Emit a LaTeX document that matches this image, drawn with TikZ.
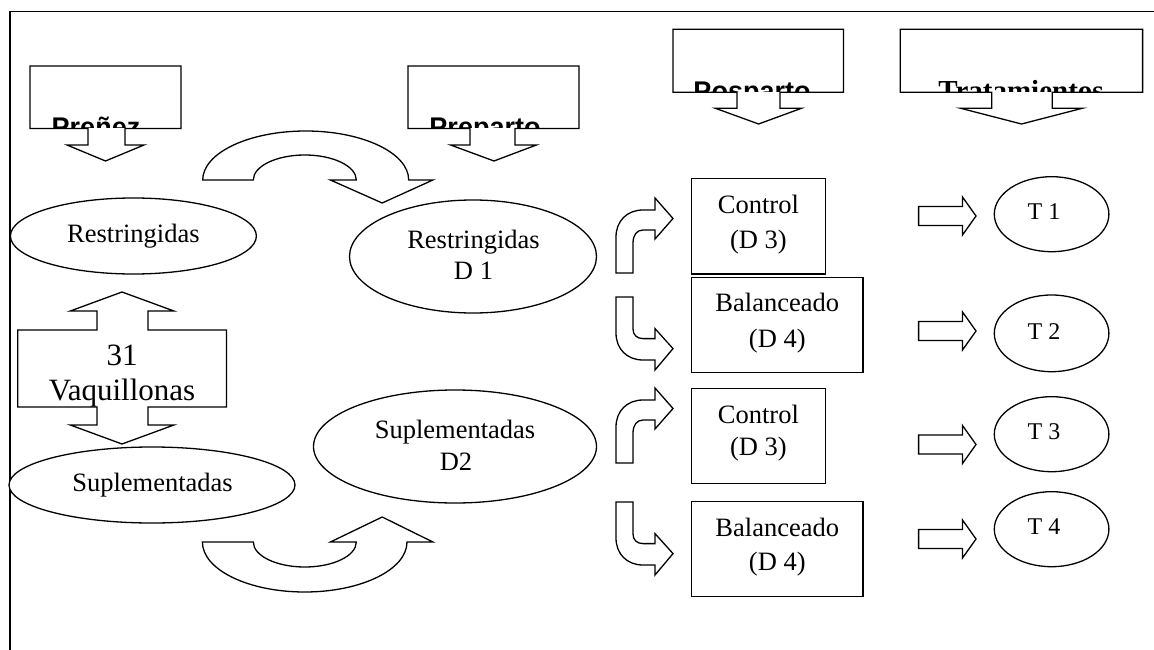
\documentclass[tikz,border=0pt]{standalone}
\usepackage{fontspec}
\setmainfont{Liberation Serif}
\newfontfamily\arialfont{Liberation Sans}
\usetikzlibrary{shapes.geometric}
\tikzset{
  ln/.style={line width=1.3pt, line join=miter},
  blk/.style={ln, draw=black, fill=white},
  ell/.style={ellipse, draw, ln, inner sep=0pt, fill=white},
  bx/.style={rectangle, draw, ln, inner sep=0pt, fill=white},
  lbl/.style={anchor=base, inner sep=0pt, font=\fontsize{26.5}{31}\selectfont},
  tlbl/.style={anchor=base, inner sep=0pt, font=\fontsize{24}{28}\selectfont},
  biglbl/.style={anchor=base, inner sep=0pt, font=\fontsize{31}{35}\selectfont},
  hdsans/.style={anchor=base, inner sep=0pt, font=\arialfont\bfseries\fontsize{27}{30}\selectfont},
  hdserif/.style={anchor=base, inner sep=0pt, font=\bfseries\fontsize{29}{33}\selectfont},
  rblock/.pic={\path[blk] (0,-9.5) -- (43.9,-9.5) -- (43.9,-19) -- (57.4,0) -- (43.9,19) -- (43.9,9.5) -- (0,9.5) -- cycle;},
  urbent/.pic={\path[blk] (0,0) -- (0,-36) .. controls (0,-52) and (11,-63) .. (27,-63) -- (39,-63) -- (39,-75) -- (57,-54.5) -- (39,-34) -- (39,-43) -- (27,-43) .. controls (21,-43) and (17,-38) .. (17,-30) -- (17,0) -- cycle;},
  drbent/.pic={\path[blk] (0,0) -- (0,36) .. controls (0,52) and (11,63) .. (27,63) -- (39,63) -- (39,73) -- (57,51.6) -- (39,31.6) -- (39,41.6) -- (27,41.6) .. controls (21,41.6) and (17,38) .. (17,32) -- (17,0) -- cycle;}
}
\begin{document}
\begin{tikzpicture}[x=1pt, y=-1pt]
\useasboundingbox (0,0) rectangle (1154,650);
% frame
\draw[ln] (1154,11.7) -- (10,11.7) -- (10,650);

% header callouts
\path[blk] (30,66) -- (181,66) -- (181,128.5) -- (125,128.5) -- (125,145) -- (144,145) -- (105.5,161) -- (67,145) -- (88,145) -- (88,128.5) -- (30,128.5) -- cycle;
\begin{scope}\clip (31,67) rectangle (180,127.8);
\node[hdsans] (prenez) at (96,137) {Preñez};
\end{scope}

\path[blk] (408,66) -- (579,66) -- (579,128.5) -- (515,128.5) -- (515,145) -- (536.4,145) -- (494,161) -- (450.6,145) -- (470,145) -- (470,128.5) -- (408,128.5) -- cycle;
\begin{scope}\clip (409,67) rectangle (578,127.8);
\node[hdsans] (preparto) at (485,137) {Preparto};
\end{scope}

\path[blk] (673,29.3) -- (843.5,29.3) -- (843.5,92.3) -- (780,92.3) -- (780,108.3) -- (801.4,108.3) -- (758.6,124) -- (715.4,108.3) -- (737,108.3) -- (737,92.3) -- (673,92.3) -- cycle;
\begin{scope}\clip (674,30) rectangle (842.5,91.6);
\node[hdsans] (posparto) at (752,100.5) {Posparto};
\end{scope}

\path[blk] (900.3,29.3) -- (1142.6,29.3) -- (1142.6,92.3) -- (1052.2,92.3) -- (1052.2,108.3) -- (1082.2,108.3) -- (1021.5,124) -- (960.7,108.3) -- (991.8,108.3) -- (991.8,92.3) -- (900.3,92.3) -- cycle;
\begin{scope}\clip (901,30) rectangle (1141.6,91.6);
\node[hdserif] (tratam) at (1021,101) {Tratamientos};
\end{scope}

% ellipses
\node[ell, minimum width=246pt, minimum height=76pt] (restr) at (133.4,236) {};
\node[lbl] (restrT) at (133.4,242.3) {Restringidas};
\node[ell, minimum width=286pt, minimum height=76pt] (supl) at (152,485) {};
\node[lbl] (suplT) at (152.5,491.7) {Suplementadas};
\node[ell, minimum width=247pt, minimum height=113pt] (restrD) at (473,256.5) {};
\node[lbl] (restrDa) at (473.5,248.3) {Restringidas};
\node[lbl] (restrDb) at (473.5,279.3) {D 1};
\node[ell, minimum width=283pt, minimum height=113pt] (suplD) at (455,446.5) {};
\node[lbl] (suplDa) at (455,438.3) {Suplementadas};
\node[lbl] (suplDb) at (456,470) {D2};

% 31 Vaquillonas up-down arrow callout
\path[blk] (17.8,330) -- (97,330) -- (97,311) -- (70.3,311) -- (122,292) -- (173.9,311) -- (148,311) -- (148,330) -- (226.4,330) -- (226.4,407) -- (148,407) -- (148,425) -- (173.9,425) -- (122,444) -- (70.3,425) -- (97,425) -- (97,407) -- (17.8,407) -- cycle;
\node[biglbl] (n31) at (122,365) {31};
\node[biglbl] (vaq) at (122,400) {Vaquillonas};

% U-turn arrows
\path[blk] (202.7,180) arc[start angle=180, end angle=0, x radius=103pt, y radius=49pt] -- (432.9,180) -- (382.2,203) -- (330.4,180) -- (356.3,180) arc[start angle=0, end angle=180, x radius=51.5pt, y radius=25pt] -- cycle;
\path[blk] (202.4,542) arc[start angle=180, end angle=360, x radius=102.3pt, y radius=50pt] -- (432.9,542) -- (382.2,517) -- (330.4,542) -- (356.3,542) arc[start angle=0, end angle=-180, x radius=51.5pt, y radius=25pt] -- cycle;

% bent arrows
\pic at (616,273) {urbent};
\pic at (616,297) {drbent};
\pic at (616,463) {urbent};
\pic at (616,502) {drbent};

% diet boxes
\node[bx, minimum width=133.6pt, minimum height=95.7pt] (ctrlA) at (758.4,226.15) {};
\node[lbl] (ctrlAa) at (758.4,213.3) {Control};
\node[lbl] (ctrlAb) at (758.4,248.3) {(D 3)};
\node[bx, minimum width=171.3pt, minimum height=95pt] (balA) at (777.25,324.8) {};
\node[lbl] (balAa) at (777.25,311.7) {Balanceado};
\node[lbl] (balAb) at (777.25,347.3) {(D 4)};
\node[bx, minimum width=133.6pt, minimum height=95pt] (ctrlB) at (758.4,435.8) {};
\node[lbl] (ctrlBa) at (758.4,423.3) {Control};
\node[lbl] (ctrlBb) at (758.4,455) {(D 3)};
\node[bx, minimum width=171.3pt, minimum height=95pt] (balB) at (777.25,549.2) {};
\node[lbl] (balBa) at (777.25,536.7) {Balanceado};
\node[lbl] (balBb) at (777.25,570) {(D 4)};

% right block arrows
\pic at (918.6,216) {rblock};
\pic at (918.6,331) {rblock};
\pic at (918.6,444.5) {rblock};
\pic at (918.6,539) {rblock};

% treatment ellipses
\node[ell, minimum width=114.6pt, minimum height=75pt] (t1) at (1051.6,214.2) {};
\node[tlbl] (t1T) at (1044,219.3) {T 1};
\node[ell, minimum width=114.6pt, minimum height=76.7pt] (t2) at (1051.6,333.35) {};
\node[tlbl] (t2T) at (1044,339.3) {T 2};
\node[ell, minimum width=114.6pt, minimum height=75pt] (t3) at (1051.6,434.2) {};
\node[tlbl] (t3T) at (1044,439.3) {T 3};
\node[ell, minimum width=114.6pt, minimum height=75pt] (t4) at (1051.6,529.2) {};
\node[tlbl] (t4T) at (1044,534.3) {T 4};
\end{tikzpicture}
\end{document}
